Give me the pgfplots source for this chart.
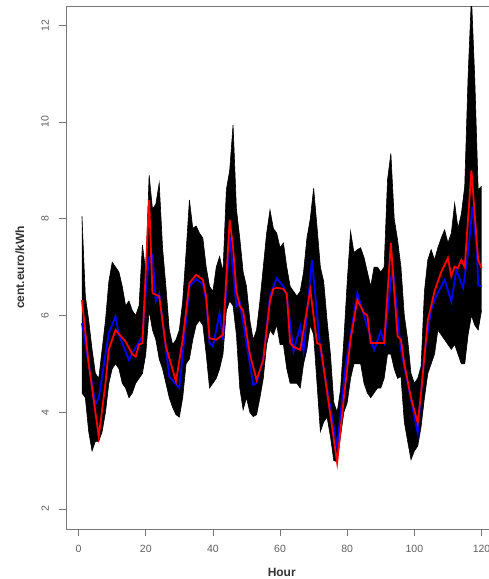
\documentclass[border=0pt]{standalone}
\usepackage{pgfplots}
\pgfplotsset{compat=1.18}
\usepgfplotslibrary{fillbetween}
\usepackage{pgfplotstable}
\usepackage{fontspec}
\setmainfont{Liberation Sans}
\definecolor{axgray}{RGB}{120,120,120}
\definecolor{labgray}{RGB}{95,95,95}

\pgfplotstableread{
h U
1 8.05
2 6.4
3 5.9
4 5.3
5 4.8
6 4.7
7 5.3
8 5.9
9 6.7
10 7.1
11 7.0
12 6.9
13 6.6
14 6.2
15 6.3
16 6.1
17 6.0
18 6.2
19 7.46
20 6.9
21 8.9
22 8.2
23 8.3
24 8.74
25 7.4
26 6.6
27 5.7
28 5.4
29 5.5
30 5.7
31 6.3
32 7.3
33 8.39
34 7.8
35 7.85
36 7.7
37 7.6
38 7.0
39 6.6
40 6.5
41 7.0
42 7.22
43 6.9
44 8.6
45 9.0
46 9.94
47 8.2
48 7.6
49 6.9
50 6.6
51 5.9
52 5.5
53 5.7
54 6.3
55 7.0
56 7.7
57 8.18
58 7.8
59 7.7
60 7.4
61 7.5
62 7.0
63 6.6
64 6.5
65 6.4
66 6.5
67 6.9
68 7.6
69 8.0
70 8.63
71 7.84
72 7.0
73 6.7
74 5.9
75 5.2
76 4.2
77 4.0
78 4.46
79 5.5
80 6.7
81 7.74
82 7.3
83 7.36
84 7.4
85 7.2
86 6.9
87 6.6
88 7.0
89 7.0
90 6.9
91 7.0
92 8.8
93 9.35
94 8.0
95 7.56
96 7.0
97 6.0
98 5.5
99 4.8
100 4.6
101 4.7
102 4.95
103 6.5
104 7.15
105 7.36
106 7.15
107 7.4
108 7.6
109 7.77
110 7.5
111 7.7
112 8.32
113 7.8
114 8.1
115 8.67
116 10.94
117 12.6
118 10.87
119 8.6
120 8.67
}\uptab

\pgfplotstableread{
h L
1 4.4
2 4.3
3 3.6
4 3.2
5 3.4
6 3.4
7 3.6
8 4.0
9 4.6
10 4.9
11 5.0
12 4.9
13 4.6
14 4.5
15 4.3
16 4.4
17 4.6
18 4.7
19 4.8
20 5.2
21 6.1
22 5.7
23 5.5
24 5.1
25 4.9
26 4.6
27 4.3
28 4.1
29 3.95
30 3.9
31 4.3
32 5.0
33 5.1
34 5.5
35 5.8
36 5.9
37 5.8
38 5.2
39 4.5
40 4.6
41 4.7
42 4.9
43 5.2
44 6.1
45 6.3
46 6.2
47 5.6
48 4.5
49 4.05
50 4.3
51 4.0
52 3.91
53 3.95
54 4.3
55 4.7
56 5.4
57 5.7
58 5.6
59 5.8
60 5.4
61 5.4
62 4.9
63 4.6
64 4.6
65 4.6
66 4.5
67 5.0
68 5.3
69 5.8
70 5.6
71 4.6
72 3.6
73 3.8
74 3.9
75 3.5
76 3.0
77 2.98
78 3.5
79 4.0
80 4.2
81 4.7
82 5.0
83 5.0
84 5.0
85 4.6
86 4.4
87 4.3
88 4.4
89 4.5
90 4.5
91 4.7
92 5.2
93 5.2
94 4.9
95 4.7
96 4.74
97 3.8
98 3.4
99 3.02
100 3.2
101 3.3
102 3.7
103 4.3
104 4.8
105 5.0
106 5.2
107 5.7
108 5.6
109 5.5
110 5.4
111 5.3
112 5.4
113 5.2
114 5.0
115 5.0
116 5.6
117 6.0
118 5.8
119 5.7
120 6.1
}\lowtab

\pgfplotstableread{
h v
1 5.84
3 5.0
5 4.16
6 4.3
9 5.64
11 5.98
12 5.6
15 5.08
16 5.22
19 5.57
20 6.5
21 7.2
22 7.25
23 6.3
24 6.45
27 4.74
30 4.5
33 6.6
35 6.75
37 6.65
38 6.3
39 5.43
40 5.36
42 6.05
43 5.5
45 7.63
47 6.19
48 6.26
50 5.43
52 4.57
53 4.6
55 5.1
57 6.4
59 6.77
61 6.6
62 6.4
64 5.26
66 5.77
67 5.26
69.5 7.15
72 5.29
77 3.29
79.5 4.95
83 6.46
85 6.0
88 5.29
90 5.67
91 5.45
93.5 7.01
96 5.29
101 3.57
103 5.22
105 6.12
106 6.32
109 6.74
111 6.29
112.5 6.94
114.5 6.57
116 7.29
117.3 8.25
118.6 7.36
119 6.63
120 6.6
}\bluetab

\pgfplotstableread{
h v
1 6.32
3 5.0
5 4.0
6 3.5
8 4.6
9 5.3
11 5.70
14 5.46
16 5.2
17 5.15
18 5.40
19 5.43
21 8.39
22 6.46
24 6.40
26 5.36
29 4.64
31 5.5
33 6.67
35 6.84
37 6.74
38 6.39
39 5.53
41 5.50
43 5.60
45 7.98
46 7.4
47 6.5
48 6.2
49 6.1
51 5.2
53 4.67
55 5.08
57 6.3
58 6.55
59 6.57
61 6.55
62 6.45
63 5.43
64 5.35
66 5.29
69 6.53
71 5.43
72 5.4
77 2.96
79 4.3
81 5.5
83 6.32
85 6.05
86 6.0
87 5.43
91 5.43
93 7.50
94 6.5
95 5.57
96 5.5
97 5.0
99 4.3
101 3.78
102 4.4
104 5.9
106 6.5
108 6.9
110 7.19
111 6.81
112 7.01
113 6.98
114 7.15
115 7.0
117 9.0
119 7.15
120 6.98
}\redtab

\begin{document}
\begin{tikzpicture}
\begin{axis}[
  scale only axis,
  width=431.5pt, height=522.7pt,
  at={(0,0)}, anchor=south west,
  xmin=-3.76, xmax=124.76, ymin=1.587, ymax=12.39,
  xtick={0,20,...,120}, ytick={2,4,...,12},
  xtick pos=bottom, ytick pos=left,
  tick align=outside, major tick length=7pt,
  axis line style={axgray, line width=0.8pt},
  tick style={axgray, line width=0.8pt},
  /pgf/number format/assume math mode=true,
  ticklabel style={font=\fontsize{10.5}{12}\selectfont, text=labgray},
  yticklabel style={rotate=90, anchor=south, inner sep=0pt},
  xticklabel style={anchor=north, inner sep=0pt},
  xticklabel shift=9pt,
  yticklabel shift=10pt,
  xlabel={\textbf{Hour}}, ylabel={\textbf{cent.euro/kWh}},
  label style={font=\fontsize{12}{14}\selectfont, text=black!80},
  xlabel style={at={(axis description cs:0.5,-0.0835)}, anchor=center},
  ylabel style={at={(axis description cs:-0.1066,0.5)}, anchor=center},
]
\addplot[name path=U, black, line width=0.6pt] table[x=h, y=U] {\uptab};
\addplot[name path=L, black, line width=0.6pt] table[x=h, y=L] {\lowtab};
\addplot[black] fill between[of=U and L];
\addplot[blue, line width=1.8pt] table[x=h, y=v] {\bluetab};
\addplot[red, line width=1.8pt] table[x=h, y=v] {\redtab};
\end{axis}
\pgfresetboundingbox
\useasboundingbox (-66pt,-50pt) rectangle (423pt,529pt);
\end{tikzpicture}
\end{document}
